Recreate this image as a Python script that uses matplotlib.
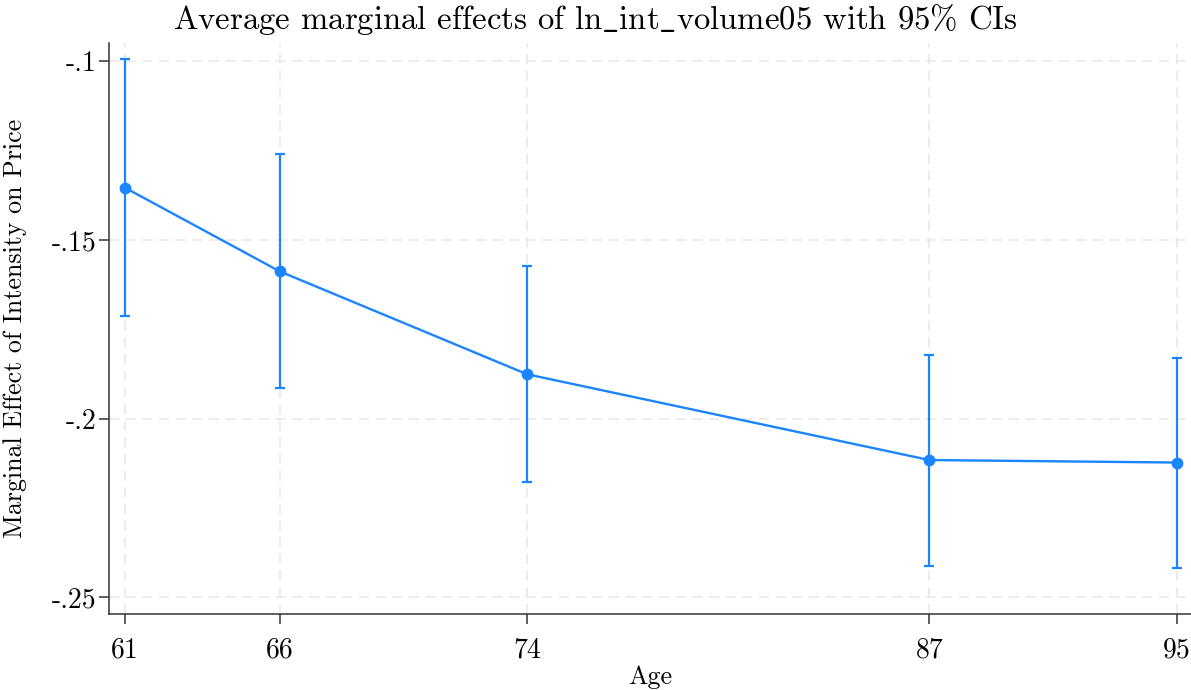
import matplotlib
matplotlib.use("Agg")
import matplotlib.pyplot as plt
from matplotlib.ticker import FixedLocator, FixedFormatter

ages = [61, 66, 74, 87, 95]
effect = [-0.1354, -0.1588, -0.1876, -0.2116, -0.2123]
ci_upper = [-0.0993, -0.1260, -0.1573, -0.1821, -0.1830]
ci_lower = [-0.1714, -0.1915, -0.2178, -0.2412, -0.2418]
y_ticks = [-0.25, -0.2, -0.15, -0.1]
y_tick_labels = ["-.25", "-.2", "-.15", "-.1"]
title = r"Average marginal effects of ln$\_$int$\_$volume05 with 95% CIs"
xlabel = "Age"
ylabel = "Marginal Effect of Intensity on Price"

plt.rcParams['font.family'] = ['cmr10', 'DejaVu Serif']
plt.rcParams['mathtext.fontset'] = 'cm'
plt.rcParams['axes.formatter.use_mathtext'] = True

color = '#1a85ff'
fig = plt.figure(figsize=(11.91, 6.90), dpi=100)
left, width = 0.0915, 0.9085
ax = fig.add_axes([left, 0.1101, width, 0.828])

yerr = [[e - l for e, l in zip(effect, ci_lower)], [u - e for u, e in zip(ci_upper, effect)]]
ax.errorbar(ages, effect, yerr=yerr, color=color, lw=1.7, marker='o', ms=7.5,
            capsize=3.6, capthick=1.6, elinewidth=1.6, zorder=3, clip_on=False)

ax.set_xlim(60.48, 95.46)
ax.set_ylim(-0.2547, -0.0948)
ax.xaxis.set_major_locator(FixedLocator(ages))
ax.xaxis.set_major_formatter(FixedFormatter([str(a) for a in ages]))
ax.yaxis.set_major_locator(FixedLocator(y_ticks))
ax.yaxis.set_major_formatter(FixedFormatter(y_tick_labels))

ax.grid(True, color='#e9e9e9', linestyle=(0, (6, 4)), lw=1.2, zorder=0)
for s in ['top', 'right']:
    ax.spines[s].set_visible(False)
for s in ['left', 'bottom']:
    ax.spines[s].set_color('#333333')
    ax.spines[s].set_linewidth(1.1)
ax.tick_params(axis='both', length=7, width=1.1, color='#333333', labelsize=20)
ax.tick_params(axis='x', pad=10)
ax.tick_params(axis='y', pad=2)

ax.set_title(title, fontsize=23.6, pad=10, x=(0.5 - left) / width)
ax.set_xlabel(xlabel, fontsize=18.7, labelpad=1)
ax.set_ylabel(ylabel, fontsize=18.7, labelpad=18)

fig.savefig('out.png', dpi=100)
